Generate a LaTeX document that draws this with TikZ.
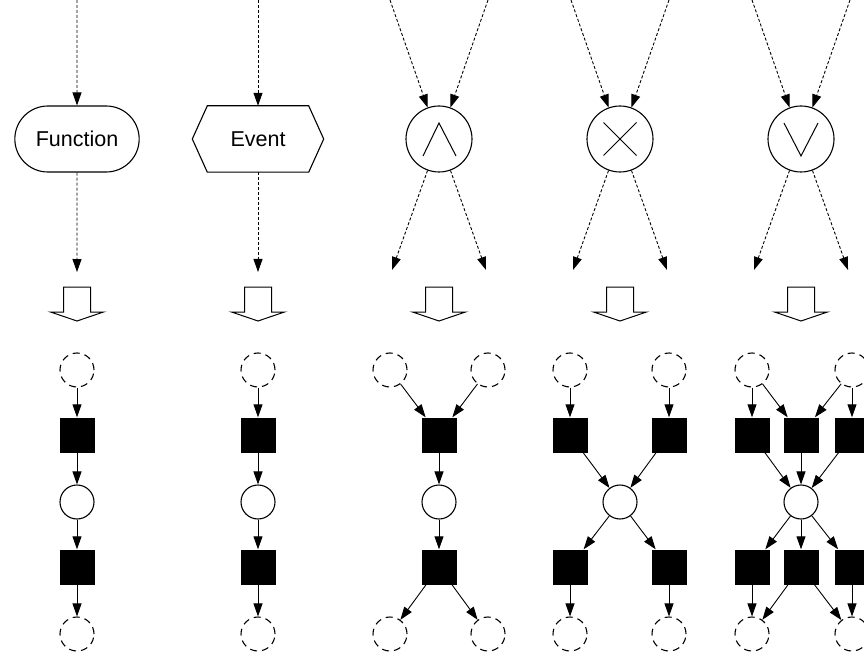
\documentclass[tikz,border=0pt]{standalone}
\usepackage{fontspec}
\setmainfont{Liberation Sans}
\usetikzlibrary{arrows.meta,shapes.misc}

\begin{document}
\begin{tikzpicture}[x=1pt,y=-1pt,
    flow/.style={line width=0.9pt,dash pattern=on 3pt off 2pt,-{Triangle[length=13pt,width=9pt]}},
    arc/.style={line width=0.9pt,-{Triangle[length=13pt,width=9pt]}},
    label text/.style={font=\fontsize{21.5}{25}\selectfont},
    func/.style={draw,rounded rectangle,line width=1.1pt,minimum width=131pt,minimum height=66pt,label text},
    event/.style={rectangle,minimum width=131pt,minimum height=66pt,label text},
    conn/.style={draw,circle,line width=1.1pt,minimum size=66pt,inner sep=0pt},
    place/.style={draw,circle,line width=1.1pt,minimum size=34pt,inner sep=0pt},
    open/.style={place,dash pattern=on 7pt off 5pt},
    trans/.style={fill=black,rectangle,minimum size=35pt,inner sep=0pt}]
        \useasboundingbox (0,0) rectangle (864,652);
        \clip (0,0) rectangle (864,652);

        \begin{scope}
            \coordinate (f_in) at (77,0);
            \node[func] (func) at (77,139) {Function};
            \coordinate (f_out) at (77,272);
            \draw[flow] (f_in) -- (func);
            \draw[flow] (func) -- (f_out);

            \coordinate (e_in) at (258,0);
            \node[event] (event) at (258,139) {Event};
            \draw[line width=1.1pt,line join=miter] (event.west) -- ([xshift=15pt]event.north west) -- ([xshift=-15pt]event.north east)
                -- (event.east) -- ([xshift=-15pt]event.south east) -- ([xshift=15pt]event.south west) -- cycle;
            \coordinate (e_out) at (258,272);
            \draw[flow] (e_in) -- (event);
            \draw[flow] (event) -- (e_out);

            \foreach \x / \c in {439/and, 620/xor, 801/or} {
                \node[conn] (\c) at (\x,139) {};
                \coordinate (\c_in1) at (\x-49,0);
                \coordinate (\c_in2) at (\x+49,0);
                \coordinate (\c_out1) at (\x-47,270);
                \coordinate (\c_out2) at (\x+47,270);
                \draw[flow] (\c_in1) -- (\c.110);
                \draw[flow] (\c_in2) -- (\c.70);
                \draw[flow] (\c.250) -- (\c_out1);
                \draw[flow] (\c.290) -- (\c_out2);
            }
            \draw[line width=1pt] (and) ++(-16,17) -- ++(16,-33) -- ++(17,33);
            \draw[line width=1pt] (xor) ++(-16.5,-16.5) -- ++(33,33);
            \draw[line width=1pt] (xor) ++(-16.5,16.5) -- ++(33,-33);
            \draw[line width=1pt] (or) ++(-17,-16) -- ++(17,33) -- ++(17,-33);
        \end{scope}

        \foreach \x in {77,258,439,620,801} {
            \draw[line width=1pt,fill=white] (\x-13.5,287) -- (\x+13.5,287) -- (\x+13.5,312) -- (\x+26.5,312)
                -- (\x,321) -- (\x-26.5,312) -- (\x-13.5,312) -- cycle;
        }

        \foreach \x / \c in {77/f, 258/e} {
            \begin{scope}[shift={(\x,0)}]
                \node[open] (p1_\c) at (0,370) {};
                \node[trans] (t1_\c) at (0,435) {};
                \node[place] (p2_\c) at (0,502) {};
                \node[trans] (t2_\c) at (0,567) {};
                \node[open] (p3_\c) at (0,634) {};
                \draw[arc] (p1_\c) -- (t1_\c);
                \draw[arc] (t1_\c) -- (p2_\c);
                \draw[arc] (p2_\c) -- (t2_\c);
                \draw[arc] (t2_\c) -- (p3_\c);
            \end{scope}
        }

        \begin{scope}[shift={(439,0)}]
            \node[open] (in1_and) at (-49,370) {};
            \node[open] (in2_and) at (49,370) {};
            \node[trans] (t1_and) at (0,435) {};
            \node[place] (p_and) at (0,502) {};
            \node[trans] (t2_and) at (0,567) {};
            \node[open] (out1_and) at (-49,634) {};
            \node[open] (out2_and) at (49,634) {};
            \draw[arc] (in1_and) -- (t1_and);
            \draw[arc] (in2_and) -- (t1_and);
            \draw[arc] (t1_and) -- (p_and);
            \draw[arc] (p_and) -- (t2_and);
            \draw[arc] (t2_and) -- (out1_and);
            \draw[arc] (t2_and) -- (out2_and);
        \end{scope}

        \begin{scope}[shift={(620,0)}]
            \node[place] (p_xor) at (0,502) {};
            \foreach \i / \dx in {1/-50, 2/49} {
                \node[open] (in\i_xor) at (\dx,370) {};
                \node[trans] (t\i_xor) at (\dx,435) {};
                \node[trans] (u\i_xor) at (\dx,567) {};
                \node[open] (out\i_xor) at (\dx,634) {};
                \draw[arc] (in\i_xor) -- (t\i_xor);
                \draw[arc] (t\i_xor) -- (p_xor);
                \draw[arc] (p_xor) -- (u\i_xor);
                \draw[arc] (u\i_xor) -- (out\i_xor);
            }
        \end{scope}

        \begin{scope}[shift={(801,0)}]
            \node[place] (p_or) at (0,502) {};
            \node[open] (in1_or) at (-49,370) {};
            \node[open] (in2_or) at (51,370) {};
            \node[open] (out1_or) at (-49,634) {};
            \node[open] (out2_or) at (51,634) {};
            \foreach \i / \dx in {1/-49, 2/0, 3/51} {
                \node[trans] (t\i_or) at (\dx,435) {};
                \node[trans] (u\i_or) at (\dx,567) {};
                \draw[arc] (t\i_or) -- (p_or);
                \draw[arc] (p_or) -- (u\i_or);
            }
            \draw[arc] (in1_or) -- (t1_or);
            \draw[arc] (in1_or) -- (t2_or);
            \draw[arc] (in2_or) -- (t2_or);
            \draw[arc] (in2_or) -- (t3_or);
            \draw[arc] (u1_or) -- (out1_or);
            \draw[arc] (u2_or) -- (out1_or);
            \draw[arc] (u2_or) -- (out2_or);
            \draw[arc] (u3_or) -- (out2_or);
        \end{scope}
    \end{tikzpicture}
\end{document}
